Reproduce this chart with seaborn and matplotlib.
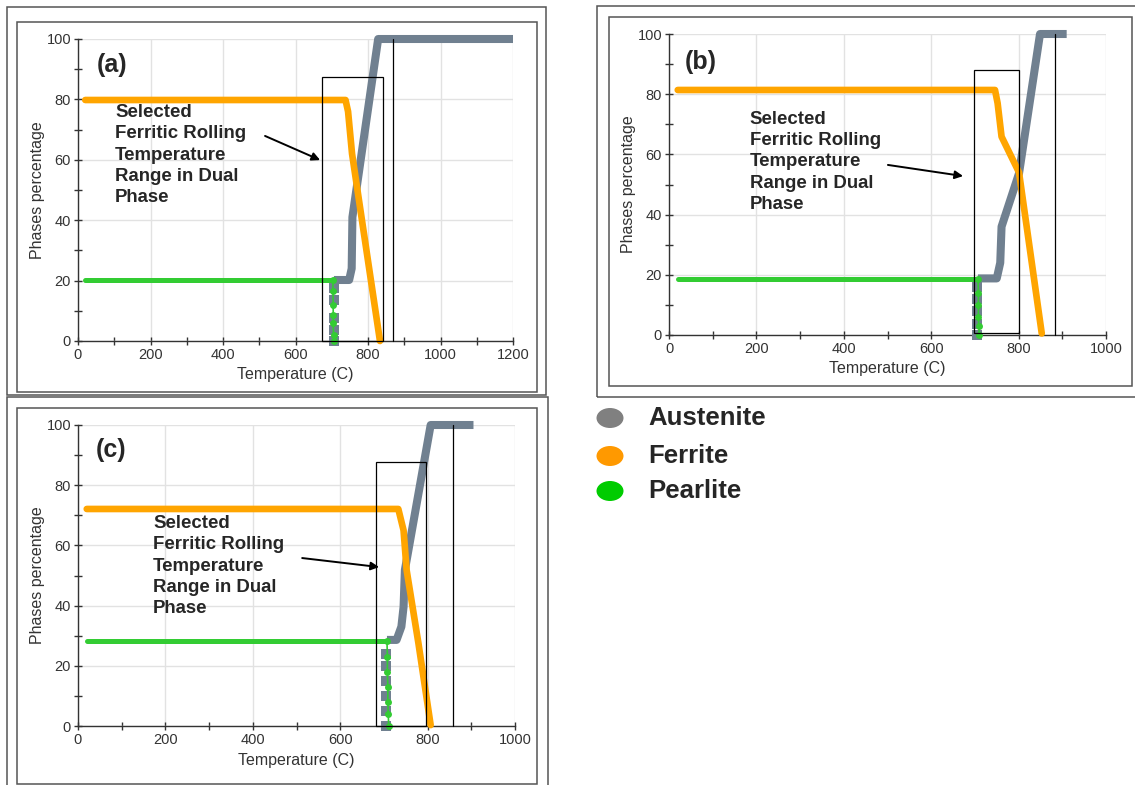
import matplotlib
matplotlib.use("Agg")
import matplotlib.pyplot as plt
import seaborn as sns
import pandas as pd
from matplotlib.patches import Rectangle, Ellipse
from matplotlib.ticker import MultipleLocator

# ---------------- data ----------------
# Panel (a)
a_aus_T = [706, 748, 755, 757, 828, 1200]
a_aus = [20.2, 20.2, 24, 41, 100, 100]
a_aus_jump_T = [705, 705, 705, 705, 705]
a_aus_jump = [0, 3.6, 7.5, 13.6, 17.4]
a_fer_T = [20, 738, 745, 756, 833]
a_fer = [79.8, 79.8, 76, 62, 0]
a_pea_T = [20, 703]
a_pea = [20.2, 20.2]
a_pea_drop_T = [703, 703.5, 704, 704, 704, 705, 706]
a_pea_drop = [20.2, 16.7, 12, 8.7, 6, 2, 0]

# Panel (b)
b_aus_T = [707, 750, 758, 761, 801, 849, 910]
b_aus = [18.8, 18.8, 24, 36, 53.7, 100, 100]
b_aus_jump_T = [705, 705, 705, 705, 705]
b_aus_jump = [0, 3.5, 8, 12, 16]
b_fer_T = [20, 746, 752, 761, 801, 853]
b_fer = [81.4, 81.4, 77, 65.9, 54, 0.5]
b_pea_T = [20, 707]
b_pea = [18.6, 18.6]
b_pea_drop_T = [707, 708, 708, 708, 709, 710]
b_pea_drop = [18.6, 14, 10, 6, 3, 0]

# Panel (c)
c_aus_T = [707, 729, 740, 745, 748, 807, 905]
c_aus = [28.6, 28.6, 33, 39.6, 51.8, 100, 100]
c_aus_jump_T = [704, 704, 704, 704, 704, 704]
c_aus_jump = [0, 5, 10, 15, 20, 24]
c_fer_T = [20, 733, 745, 752, 779, 807]
c_fer = [72.1, 72.1, 65, 51.8, 27.5, 0.3]
c_pea_T = [20, 707]
c_pea = [28.3, 28.3]
c_pea_drop_T = [707, 708, 708, 709, 709, 710, 711]
c_pea_drop = [28.3, 23, 18, 13, 8, 4, 0]

panel_labels = ["(a)", "(b)", "(c)"]
note_text = "Selected\nFerritic Rolling\nTemperature\nRange in Dual\nPhase"
legend_names = ["Austenite", "Ferrite", "Pearlite"]
xlabel = "Temperature (C)"
ylabel = "Phases percentage"

# ---------------- style ----------------
sns.set_theme(style="white")
plt.rcParams["font.family"] = ["Liberation Sans", "DejaVu Sans"]

W, H = 1135, 785
fig = plt.figure(figsize=(W / 100, H / 100), dpi=100)

AUS_C = "#708090"
FER_C = "#FFA500"
PEA_C = "#33CC33"


def fx(px):
    return px / W


def fy(py):
    return 1 - py / H


def add_frame(x0, y0, x1, y1):
    fig.add_artist(Rectangle((fx(x0), fy(y1)), fx(x1) - fx(x0), fy(y0) - fy(y1),
                             transform=fig.transFigure, fill=False,
                             edgecolor="#555555", lw=1.1, zorder=0))


# frames
add_frame(7, 7, 546, 395)
add_frame(17, 22, 537, 392)
add_frame(597, 6, 1145, 397)
add_frame(609, 17, 1132, 386)
add_frame(7, 397, 548, 800)
add_frame(17, 408, 537, 784)

panels = [
    dict(rect=(78, 39, 513, 341), xmax=1200,
         aus=(a_aus_T, a_aus), aus_j=(a_aus_jump_T, a_aus_jump),
         fer=(a_fer_T, a_fer), pea=(a_pea_T, a_pea), pea_d=(a_pea_drop_T, a_pea_drop),
         box=(674, 840, 0, 87.5), vline=870,
         label_pos=(52, 91.4), text_pos=(102, 78.5),
         arrow=((516, 67.9), (668, 59.9))),
    dict(rect=(669, 34, 1106, 335), xmax=1000,
         aus=(b_aus_T, b_aus), aus_j=(b_aus_jump_T, b_aus_jump),
         fer=(b_fer_T, b_fer), pea=(b_pea_T, b_pea), pea_d=(b_pea_drop_T, b_pea_drop),
         box=(698, 801, 0.6, 88), vline=883,
         label_pos=(37, 90.7), text_pos=(185, 74.5),
         arrow=((501, 56.5), (673, 52.8))),
    dict(rect=(78, 425, 515, 726), xmax=1000,
         aus=(c_aus_T, c_aus), aus_j=(c_aus_jump_T, c_aus_jump),
         fer=(c_fer_T, c_fer), pea=(c_pea_T, c_pea), pea_d=(c_pea_drop_T, c_pea_drop),
         box=(683, 796, 0, 87.8), vline=857,
         label_pos=(40, 91.7), text_pos=(172, 70.1),
         arrow=((513, 55.8), (689, 52.8))),
]

for i, p in enumerate(panels):
    x0, y0, x1, y1 = p["rect"]
    ax = fig.add_axes([fx(x0), fy(y1), fx(x1) - fx(x0), fy(y0) - fy(y1)])
    ax.set_facecolor("white")

    # austenite
    sns.lineplot(x=p["aus"][0], y=p["aus"][1], ax=ax, sort=False, estimator=None,
                 color=AUS_C, lw=5.8, solid_capstyle="butt", clip_on=False, zorder=3)
    sns.lineplot(x=p["aus_j"][0], y=p["aus_j"][1], ax=ax, sort=False, estimator=None,
                 color=AUS_C, lw=0, marker="s", markersize=6.5, markeredgewidth=0,
                 clip_on=False, zorder=3)
    # ferrite
    sns.lineplot(x=p["fer"][0], y=p["fer"][1], ax=ax, sort=False, estimator=None,
                 color=FER_C, lw=4.8, solid_capstyle="round", solid_joinstyle="round",
                 clip_on=False, zorder=4)
    # pearlite
    sns.lineplot(x=p["pea"][0], y=p["pea"][1], ax=ax, sort=False, estimator=None,
                 color=PEA_C, lw=3.6, solid_capstyle="round", clip_on=False, zorder=5)
    sns.lineplot(x=p["pea_d"][0], y=p["pea_d"][1], ax=ax, sort=False, estimator=None,
                 color=PEA_C, lw=1.2, marker="o", markersize=5, markeredgewidth=0,
                 clip_on=False, zorder=5)

    bx0, bx1, by0, by1 = p["box"]
    ax.add_patch(Rectangle((bx0, by0), bx1 - bx0, by1 - by0, fill=False,
                           edgecolor="black", lw=0.9, zorder=6, clip_on=False))
    ax.plot([p["vline"], p["vline"]], [0, 100], color="black", lw=0.9, zorder=6,
            clip_on=False)

    ax.set_xlim(0, p["xmax"])
    ax.set_ylim(0, 100)
    ax.xaxis.set_major_locator(MultipleLocator(200))
    ax.xaxis.set_minor_locator(MultipleLocator(100))
    ax.yaxis.set_major_locator(MultipleLocator(20))
    ax.yaxis.set_minor_locator(MultipleLocator(10))
    ax.grid(True, which="major", color="#e2e2e2", lw=1, zorder=0)
    ax.set_axisbelow(True)
    for s in ["top", "right"]:
        ax.spines[s].set_visible(False)
    for s in ["left", "bottom"]:
        ax.spines[s].set_color("#333333")
        ax.spines[s].set_linewidth(1.0)
    ax.tick_params(which="both", direction="inout", color="#333333", width=1,
                   labelsize=10.5, labelcolor="#333333", left=True, bottom=True)
    ax.tick_params(which="major", length=6, pad=2)
    ax.tick_params(which="minor", length=6)
    ax.set_xlabel(xlabel, fontsize=11.5, color="#333333", labelpad=4)
    ax.set_ylabel(ylabel, fontsize=11.5, color="#333333", labelpad=1)

    ax.text(*p["label_pos"], panel_labels[i], fontsize=18, fontweight="bold",
            va="center", ha="left", zorder=7)
    ax.text(*p["text_pos"], note_text, fontsize=13.4, fontweight="bold",
            va="top", ha="left", linespacing=1.33, zorder=7)
    (sx, sy), (ex, ey) = p["arrow"]
    ax.annotate("", xy=(ex, ey), xytext=(sx, sy),
                arrowprops=dict(arrowstyle="-|>", color="black", lw=1.4,
                                mutation_scale=12, shrinkA=0, shrinkB=0), zorder=7)

# legend
leg_colors = ["#808080", "#FF9900", "#00CC00"]
leg_y = [418, 456, 491]
for name, c, yy in zip(legend_names, leg_colors, leg_y):
    fig.add_artist(Ellipse((fx(610), fy(yy)), 27 / W, 20 / H, transform=fig.transFigure,
                           facecolor=c, edgecolor="none"))
    fig.text(fx(648), fy(yy), name, fontsize=18.5, fontweight="bold", va="center",
             ha="left")

fig.savefig("out.png", dpi=100, facecolor="white")
